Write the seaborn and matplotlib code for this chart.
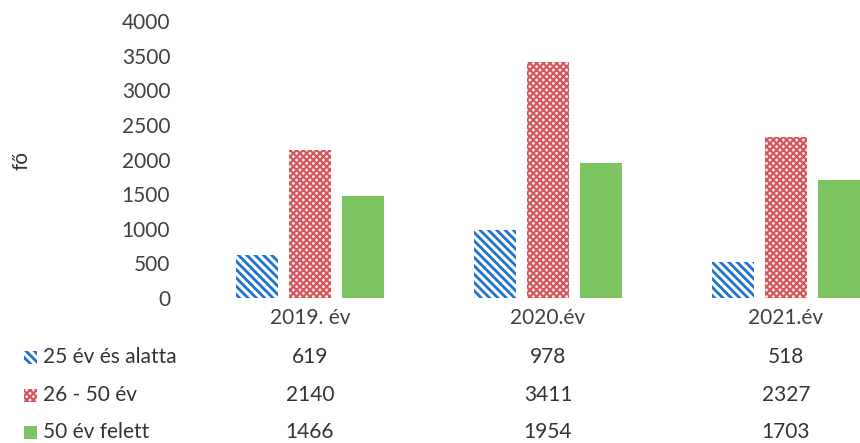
import matplotlib
matplotlib.use("Agg")
import matplotlib.pyplot as plt
import seaborn as sns
import pandas as pd
from matplotlib.patches import Rectangle

years = ["2019. év", "2020.év", "2021.év"]
series = ["25 év és alatta", "26 - 50 év", "50 év felett"]
v_25 = [619, 978, 518]
v_26_50 = [2140, 3411, 2327]
v_50 = [1466, 1954, 1703]
yticks = [0, 500, 1000, 1500, 2000, 2500, 3000, 3500, 4000]

sns.set_theme(style="white")
plt.rcParams['font.family'] = ['Lato', 'DejaVu Sans']
plt.rcParams['hatch.linewidth'] = 1.8

rows = []
for s, vals in zip(series, [v_25, v_26_50, v_50]):
    for y, v in zip(years, vals):
        rows.append({"year": y, "series": s, "value": v})
df = pd.DataFrame(rows)

W, H = 860, 443
fig = plt.figure(figsize=(W / 100, H / 100), dpi=100)
ax = fig.add_axes([191 / W, (H - 298) / H, 714 / W, 277 / H])

face = {"25 év és alatta": "white", "26 - 50 év": "#fbe6e6", "50 év felett": "#7dc462"}
edge = {"25 év és alatta": "#1a73d0", "26 - 50 év": "#d4565d", "50 év felett": "#7dc462"}
hatch = {"25 év és alatta": "\\\\\\\\", "26 - 50 év": "xxxxx", "50 év felett": None}
hlw = {"25 év és alatta": 2.0, "26 - 50 év": 1.5, "50 év felett": 1.0}

sns.barplot(data=df, x="year", y="value", hue="series", order=years, hue_order=series,
            ax=ax, width=0.662, gap=0.2, legend=False,
            palette=["white", "#d4565d", "#7dc462"])

for cont, s in zip(ax.containers, series):
    for p in cont:
        p.set_facecolor(face[s])
        p.set_edgecolor(edge[s])
        p.set_linewidth(0)
        if hatch[s]:
            p.set_hatch(hatch[s])
            if hasattr(p, "set_hatch_linewidth"):
                p.set_hatch_linewidth(hlw[s])

ax.set_ylim(0, 4000)
ax.set_yticks(yticks)
ax.set_yticklabels([str(t) for t in yticks], fontsize=15, color="#404040")
ax.tick_params(axis="y", length=0, pad=15)
ax.tick_params(axis="x", length=0, pad=7, labelsize=15, labelcolor="#404040")
ax.set_xlabel("")
ax.set_ylabel("")
for sp in ax.spines.values():
    sp.set_visible(False)

fig.text(22 / W, 1 - 161 / H, "fő", rotation=90, fontsize=15, color="#333333",
         ha="center", va="center")

# Data table below the chart
row_y = [357, 395, 432]
all_vals = [v_25, v_26_50, v_50]
trans = matplotlib.transforms.blended_transform_factory(ax.transData, fig.transFigure)
for i, s in enumerate(series):
    yc = 1 - row_y[i] / H
    r = Rectangle((24 / W, yc - 6.5 / H), 13 / W, 13 / H, transform=fig.transFigure,
                  facecolor=face[s], edgecolor=edge[s], hatch=hatch[s], linewidth=0)
    if hatch[s] and hasattr(r, "set_hatch_linewidth"):
        r.set_hatch_linewidth(hlw[s])
    fig.add_artist(r)
    fig.text(43 / W, yc, s, fontsize=15, color="#333333", ha="left", va="center")
    for j, v in enumerate(all_vals[i]):
        ax.text(j, yc, str(v), transform=trans, fontsize=15, color="#333333",
                ha="center", va="center", clip_on=False)

fig.savefig("out.png", dpi=100)
